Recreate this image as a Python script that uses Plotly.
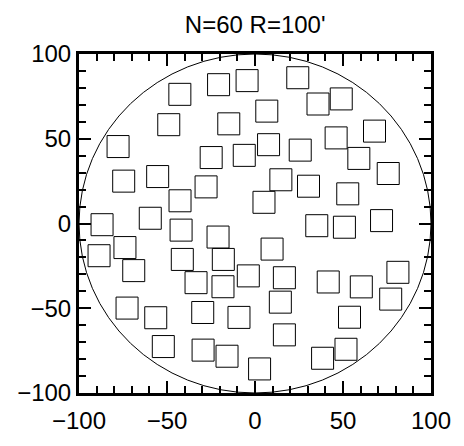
import plotly.graph_objects as go

# Field geometry
N_SOURCES = 60
RADIUS = 100

# Square centres (arcmin offsets)
x_pos = [
    -42.7, -20.7, -4.5, -49.0, -14.9, -77.8, -24.9, -6.1, -74.6, -55.3,
    -27.8, -42.6, -86.9, -59.5,
    24.3, 35.8, 49.0, 6.7, 7.7, 25.7, 46.1, 67.9, 59.0, 14.7,
    30.4, 75.7, 5.1, 52.7, 35.1, 50.8, 71.9,
    -42.0, -21.0, -88.6, -73.9, -68.9, -41.3, -18.0, -33.5, -18.2,
    -3.8, -72.7, -56.4, -29.7, -9.1, -52.1, -29.5, -15.9,
    9.7, 16.7, 14.4, 16.7, 2.6, 41.6, 60.4, 81.2, 77.1, 53.7, 38.4, 51.7,
]
y_pos = [
    76.2, 81.9, 84.3, 58.3, 58.8, 45.4, 38.9, 40.2, 25.0, 27.7,
    21.6, 13.4, -0.7, 3.1,
    86.0, 70.5, 73.5, 66.3, 46.5, 43.3, 50.5, 54.5, 38.4, 25.8,
    22.0, 29.5, 12.5, 17.5, -1.3, -2.2, 1.7,
    -3.9, -8.0, -19.0, -14.2, -27.8, -21.2, -21.2, -34.9, -37.3,
    -30.9, -49.9, -55.6, -52.5, -55.4, -72.6, -74.7, -78.3,
    -15.1, -32.0, -46.4, -65.7, -85.8, -34.5, -37.4, -28.8, -44.6, -55.3, -79.5, -74.2,
]

tick_vals = [-100, -50, 0, 50, 100]
tick_text = ["\u2212100", "\u221250", "0", "50", "100"]

FONT = "Liberation Sans, Arial, sans-serif"

fig = go.Figure()

fig.add_trace(go.Scatter(
    x=x_pos, y=y_pos, mode="markers",
    marker=dict(symbol="square-open", size=22, color="black",
                line=dict(width=1, color="black")),
    hoverinfo="skip", showlegend=False,
))

# Field boundary
fig.add_shape(type="circle", xref="x", yref="y",
              x0=-RADIUS, y0=-RADIUS, x1=RADIUS, y1=RADIUS,
              line=dict(color="black", width=1), layer="below")

axis_common = dict(
    range=[-RADIUS, RADIUS], showgrid=False, zeroline=False,
    showline=True, linecolor="black", linewidth=3, mirror="ticks",
    ticks="inside", ticklen=12, tickwidth=2, tickcolor="black",
    tickvals=tick_vals, ticktext=tick_text,
    minor=dict(ticks="inside", ticklen=7, tickwidth=2, tickcolor="black", dtick=10,
               tick0=0, showgrid=False),
    tickfont=dict(family=FONT, size=24, color="black"),
)

fig.update_layout(
    width=464, height=446,
    margin=dict(l=79, r=33, t=54, b=41),
    paper_bgcolor="white", plot_bgcolor="white",
    title=dict(text=f"N={N_SOURCES} R={RADIUS}'", x=0.55, xanchor="center",
               y=0.945, yanchor="middle", yref="container",
               font=dict(family=FONT, size=24, color="black")),
    xaxis=dict(axis_common, ticklabelstandoff=4),
    yaxis=axis_common,
)

fig.write_html("out.html")
